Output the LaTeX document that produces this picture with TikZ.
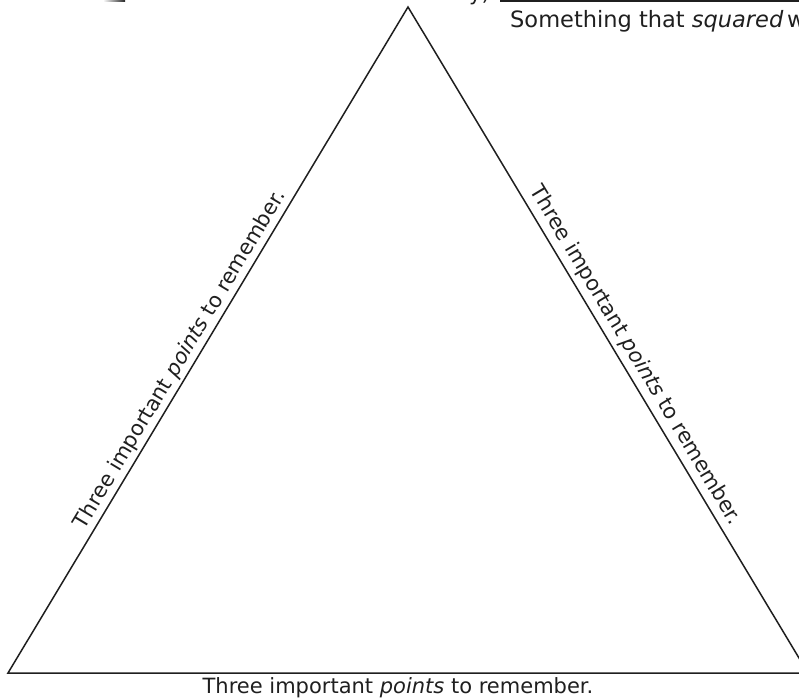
\documentclass[tikz,border=0pt]{standalone}
\usepackage{fontspec}
\setmainfont{DejaVu Sans}
\begin{document}
\begin{tikzpicture}[x=1pt,y=-1pt,
  ink/.style={draw=black!88, line width=1.5pt},
  lbl/.style={font=\fontsize{21}{25}\selectfont, text=black!88},
  sidelbl/.style={lbl, inner sep=3pt}]
\useasboundingbox (0,0) rectangle (799,700);
\clip (0,0) rectangle (799,700);
% cropped fragments at the top edge
\shade[left color=white, right color=black!85] (103,0) rectangle (125,1.4);
\node[lbl, anchor=base east, inner sep=0pt] (frag) at (490,1) {y)};
\coordinate (ls) at (500,1);
\coordinate (le) at (800,1);
\draw[ink, line width=2pt] (ls) -- (le);
\node[lbl, font=\fontsize{22.5}{26}\selectfont, anchor=base west, inner sep=0pt] (top) at (510,28) {Something that \textit{squared}\,w};
% triangle
\coordinate (A) at (408,7);
\coordinate (B) at (8,673);
\coordinate (C) at (808,673);
\draw[ink, line join=miter] (A) -- (B) -- (C) -- cycle;
\path (B) -- (A) node[sidelbl, pos=0.46, sloped, above] (left) {Three important \textit{points} to remember.};
\path (A) -- (C) node[sidelbl, inner sep=5pt, pos=0.535, sloped, above] (right) {Three important \textit{points} to remember.};
\node[lbl, anchor=base, inner sep=0pt] (bottom) at (398,693) {Three important \textit{points} to remember.};
\end{tikzpicture}
\end{document}
